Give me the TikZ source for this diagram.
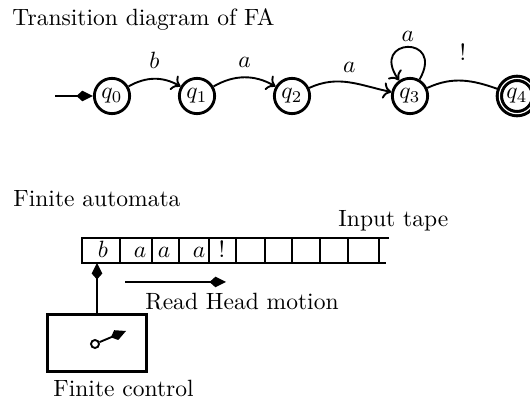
\documentclass[tikz,border=0pt]{standalone}
\usetikzlibrary{arrows.meta}

\begin{document}
\begin{tikzpicture}[x=0.425pt,y=-0.425pt,
  state/.style={circle,draw,very thick,minimum size=15pt,inner sep=0pt},
  final/.style={state,line width=1.3pt,double,double distance=0.5pt},
  edge/.style={thick,-{To[length=3.5pt,width=7pt]}},
  head/.style={thick,-{Kite[length=7pt,width=4.5pt,inset=2.5pt]}},
  lbl/.style={midway,above=3pt,inner sep=1pt},
  txt/.style={anchor=base west,inner sep=0pt}]
\useasboundingbox (0,0) rectangle (530,402);
% transition diagram
\node[txt] (title) at (12,26) {Transition diagram of FA};
\node[state] (q0) at (112,96) {$q_0$}; \node[state] (q1) at (197,96) {$q_1$};
\node[state] (q2) at (292,96) {$q_2$}; \node[state] (q3) at (410,96) {$q_3$};
\node[final] (q4) at (517,96) {$q_4$};
\coordinate (start) at (55,96);
\draw[head] (start) -- (q0);
\draw[edge] (q0) to[bend left=30] node[lbl] {$b$} (q1);
\draw[edge] (q1) to[bend left=30] node[lbl] {$a$} (q2);
\draw[edge] (q2) to[out=25,in=168] node[lbl] {$a$} (q3);
\draw[edge] (q3) to[out=60,in=125,looseness=6.5] node[above=1pt,inner sep=1pt] {$a$} (q3);
\draw[thick] (q3) to[out=25,in=160] node[lbl,above=4pt] {!} (q4);
% finite automata
\node[txt] (fa) at (13,207) {Finite automata};
\node[txt] (tapelbl) at (338,227) {Input tape};
\draw[very thick] (389,238) -- (82,238) -- (82,263) -- (386,263);
\foreach \x in {120,152,179,209,236,265,292,320,348,379}
  \draw[very thick] (\x,238) -- (\x,263);
\foreach \x/\s in {103/$b$,140/$a$,164/$a$,199/$a$,222/!}
  \node[anchor=base,inner sep=0pt] at (\x,258) {\s};
\node[draw,very thick,minimum width=42pt,minimum height=24pt,inner sep=0pt] (ctrl) at (97,343) {};
\coordinate (tapebot) at (98,263);
\draw[head] (ctrl.north) -- (ctrl.north |- tapebot);
\node[circle,draw,thick,minimum size=3.4pt,inner sep=0pt] (pivot) at (95,344) {};
\coordinate (tip) at (126,331);
\draw[head] (pivot) -- (tip);
\coordinate (m1) at (125,282); \coordinate (m2) at (226,282);
\draw[head] (m1) -- (m2);
\node[txt] (motion) at (145,310) {Read Head motion};
\node[txt] (fc) at (53,397) {Finite control};
\end{tikzpicture}
\end{document}
